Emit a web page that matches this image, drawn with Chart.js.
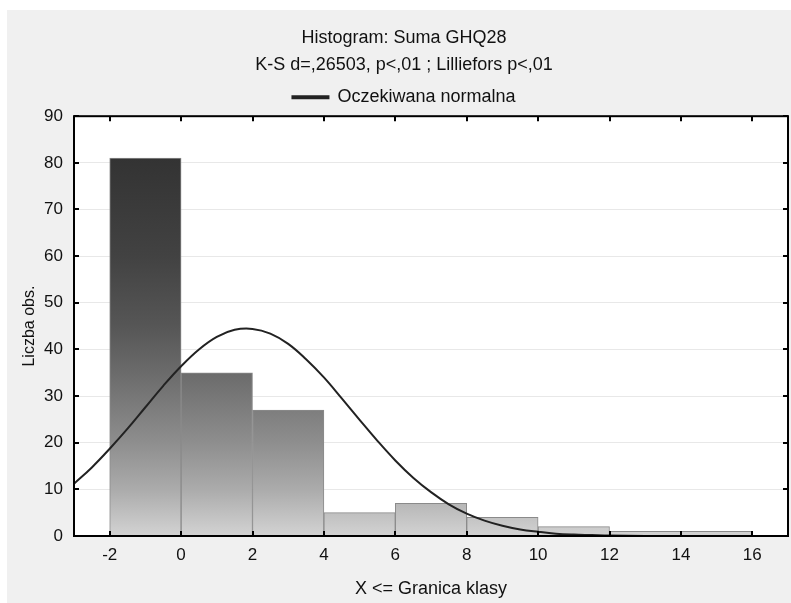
<!DOCTYPE html>
<html>
<head>
<meta charset="utf-8">
<script src="https://cdn.jsdelivr.net/npm/chart.js@4/dist/chart.umd.min.js"></script>
<style>
  html, body { margin: 0; padding: 0; background: #fff; }
  #wrap { width: 791px; height: 603px; }
</style>
</head>
<body>
<div id="wrap"><canvas id="grafico" width="791" height="603"></canvas></div>
<script>
// granice klas i liczebnosci
const binEdges = [-2, 0, 2, 4, 6, 8, 10, 12, 14, 16];
const counts = [81, 35, 27, 5, 7, 4, 2, 1, 1];

// oczekiwana normalna
const curveX = [-3, -2.5, -2, -1.5, -1, -0.5, 0, 0.5, 1, 1.5, 2, 2.5, 3, 3.5, 4, 4.5, 5, 5.5, 6, 6.5, 7, 7.5, 8, 8.5, 9, 9.5, 10, 10.5, 11, 11.5, 12, 13, 14, 15, 16, 17];
const curveY = [11.2, 14.7, 18.7, 23.0, 27.6, 32.2, 36.4, 40.0, 42.7, 44.2, 44.4, 43.4, 41.2, 37.9, 34.0, 29.5, 24.9, 20.4, 16.2, 12.5, 9.4, 6.8, 4.8, 3.3, 2.2, 1.4, 0.9, 0.5, 0.3, 0.2, 0.1, 0, 0, 0, 0, 0];

const xTicks = [-2, 0, 2, 4, 6, 8, 10, 12, 14, 16];
const yTicks = [0, 10, 20, 30, 40, 50, 60, 70, 80, 90];

const fontFam = '"Liberation Sans", Arial, sans-serif';

const barData = counts.map((c, i) => ({ x: (binEdges[i] + binEdges[i + 1]) / 2, y: c }));
const lineData = curveX.map((x, i) => ({ x: x, y: curveY[i] }));

// szary gradient zalezny od wysokosci
function barGradient(ctx) {
    const chart = ctx.chart;
    const area = chart.chartArea;
    if (!area) return '#999';
    const y = chart.scales.y;
    const g = chart.ctx.createLinearGradient(0, y.getPixelForValue(0), 0, y.getPixelForValue(90));
    const stops = [[0, '#d3d3d3'], [10, '#ababab'], [20, '#8e8e8e'], [35, '#6b6b6b'], [45, '#565656'], [60, '#424242'], [81, '#333333'], [90, '#303030']];
    stops.forEach(s => g.addColorStop(s[0] / 90, s[1]));
    return g;
}

const tlo = {
    id: 'tlo',
    beforeDraw(chart) {
        const c = chart.ctx;
        c.save();
        c.fillStyle = '#ffffff';
        c.fillRect(0, 0, chart.width, chart.height);
        c.fillStyle = '#f0f0f0';
        c.fillRect(7, 10, chart.width - 7, chart.height - 10);
        const a = chart.chartArea;
        c.fillStyle = '#ffffff';
        c.fillRect(a.left, a.top, a.right - a.left, a.bottom - a.top);
        c.restore();
    }
};

// ramka i znaczniki do wewnatrz
const ramka = {
    id: 'ramka',
    afterDraw(chart) {
        const c = chart.ctx;
        const a = chart.chartArea;
        const sx = chart.scales.x, sy = chart.scales.y;
        const len = 5;
        c.save();
        c.strokeStyle = '#000';
        c.lineWidth = 2;
        c.beginPath();
        xTicks.forEach(v => {
            const px = Math.round(sx.getPixelForValue(v));
            c.moveTo(px, a.bottom); c.lineTo(px, a.bottom - len);
            c.moveTo(px, a.top); c.lineTo(px, a.top + len);
        });
        yTicks.forEach(v => {
            const py = Math.round(sy.getPixelForValue(v));
            c.moveTo(a.left, py); c.lineTo(a.left + len, py);
            c.moveTo(a.right, py); c.lineTo(a.right - len, py);
        });
        c.stroke();
        c.strokeRect(a.left, a.top, a.right - a.left, a.bottom - a.top);
        c.restore();
    }
};

new Chart(document.getElementById('grafico').getContext('2d'), {
    data: {
        datasets: [
            {
                type: 'line',
                label: 'Oczekiwana normalna',
                data: lineData,
                borderColor: '#222',
                backgroundColor: '#222',
                borderWidth: 2,
                pointRadius: 0,
                tension: 0.4,
                fill: false,
                order: 0
            },
            {
                type: 'bar',
                label: 'Liczba obs.',
                data: barData,
                backgroundColor: barGradient,
                borderColor: '#8a8a8a',
                borderWidth: 1,
                barPercentage: 1,
                categoryPercentage: 1,
                order: 1
            }
        ]
    },
    options: {
        responsive: false,
        animation: false,
        layout: { padding: { left: 20, right: 3, top: 1, bottom: 0 } },
        plugins: {
            title: {
                display: true,
                text: 'Histogram: Suma GHQ28',
                color: '#111',
                font: { family: fontFam, size: 18, weight: 'normal' },
                padding: { top: 26, bottom: 6 }
            },
            subtitle: {
                display: true,
                text: 'K-S d=,26503, p<,01 ; Lilliefors p<,01',
                color: '#111',
                font: { family: fontFam, size: 18 },
                padding: { top: 0, bottom: 2 }
            },
            legend: {
                display: true,
                labels: {
                    color: '#111',
                    font: { family: fontFam, size: 18 },
                    boxWidth: 36,
                    boxHeight: 2,
                    padding: 10,
                    filter: item => item.datasetIndex === 0
                }
            },
            tooltip: { enabled: false }
        },
        scales: {
            x: {
                type: 'linear',
                min: -3,
                max: 17,
                offset: false,
                afterBuildTicks: s => { s.ticks = xTicks.map(v => ({ value: v })); },
                afterFit: s => { s.height = 67; },
                ticks: { color: '#111', font: { family: fontFam, size: 17 }, padding: 9, maxRotation: 0 },
                grid: { display: false, drawTicks: false, offset: false },
                border: { display: false },
                title: {
                    display: true,
                    text: 'X <= Granica klasy',
                    color: '#111',
                    font: { family: fontFam, size: 18 },
                    padding: { top: 4, bottom: 3 }
                }
            },
            y: {
                min: 0,
                max: 90,
                afterBuildTicks: s => { s.ticks = yTicks.map(v => ({ value: v })); },
                afterFit: s => { s.width = 54; },
                ticks: { color: '#111', font: { family: fontFam, size: 17 }, padding: 11 },
                grid: { color: '#e8e8e8', lineWidth: 1, drawTicks: false },
                border: { display: false },
                title: {
                    display: true,
                    text: 'Liczba obs.',
                    color: '#111',
                    font: { family: fontFam, size: 16 },
                    padding: { top: 0, bottom: 4 }
                }
            }
        }
    },
    plugins: [tlo, ramka]
});
</script>
</body>
</html>
